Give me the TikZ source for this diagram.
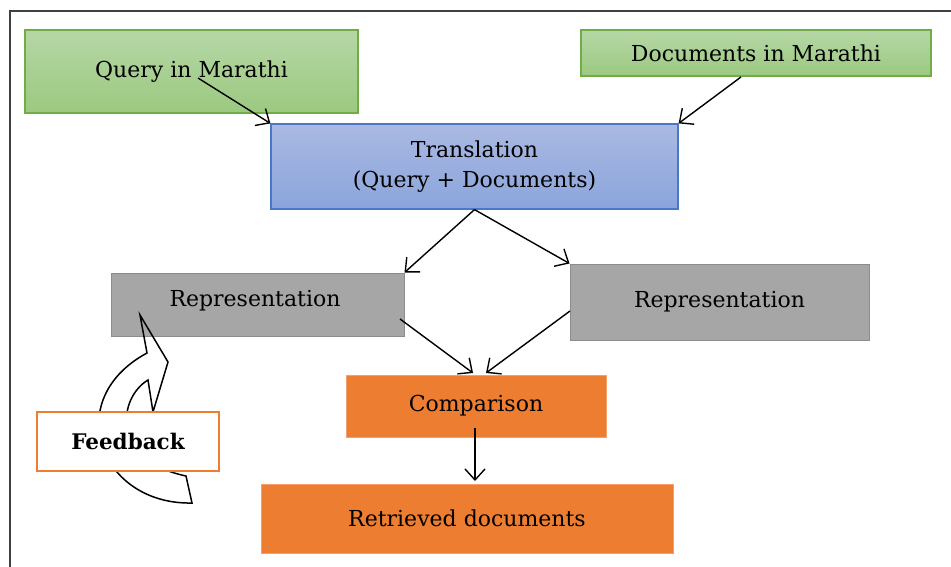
\documentclass[tikz,border=0pt]{standalone}
\usepackage{fontspec}
\setmainfont{DejaVu Serif}
\usetikzlibrary{arrows.meta}
\definecolor{gtop}{HTML}{B5D7A6}
\definecolor{gbot}{HTML}{9CC980}
\definecolor{gbord}{HTML}{70AD47}
\definecolor{btop}{HTML}{AAB9E2}
\definecolor{bbot}{HTML}{8AA5DC}
\definecolor{bbord}{HTML}{4A77C8}
\definecolor{grayf}{HTML}{A6A6A6}
\definecolor{grayb}{HTML}{8C8C8C}
\definecolor{orng}{HTML}{ED7D31}
\definecolor{orngb}{HTML}{F4A06A}
\tikzset{
  box/.style={rectangle, inner sep=0pt, align=center, font=\fontsize{22}{30}\selectfont, text=black},
  greenbox/.style={box, draw=gbord, line width=1.2pt, top color=gtop, bottom color=gbot},
  bluebox/.style={box, draw=bbord, line width=1.2pt, top color=btop, bottom color=bbot},
  graybox/.style={box, draw=grayb, line width=1pt, fill=grayf},
  orangebox/.style={box, draw=orngb, line width=0.8pt, fill=orng},
  fbbox/.style={box, draw=orng, line width=1.2pt, fill=white, font=\fontsize{21.5}{26}\selectfont\bfseries},
  conn/.style={line width=1.4pt, -{Straight Barb[length=11pt,width=20pt,line width=1.4pt]}},
}
\begin{document}
\begin{tikzpicture}[x=1pt,y=-1pt]
\useasboundingbox (0,0) rectangle (951,567);
\draw[line width=1.5pt, black!75] (10,567) -- (10,11) -- (951,11);

\node[greenbox, minimum width=333pt, minimum height=83pt] (query) at (191.5,71.5) {Query in Marathi};
\node[greenbox, minimum width=350pt, minimum height=46pt] (docs) at (756,53) {Documents in Marathi};
\node[bluebox, minimum width=407pt, minimum height=85pt] (trans) at (474.5,166.5) {Translation\\(Query + Documents)};
\node[graybox, minimum width=293pt, minimum height=63pt] (repL) at (257.5,304.5) {};
\node[box] (repLt) at (255,301) {Representation};
\node[graybox, minimum width=299pt, minimum height=76pt] (repR) at (719.5,302) {Representation};
\node[orangebox, minimum width=260pt, minimum height=62pt] (comp) at (476,406) {Comparison};
\node[orangebox, minimum width=412pt, minimum height=69pt] (ret) at (467,518.5) {Retrieved documents};

% curved feedback arrow
\coordinate (fT) at (140,315);
\coordinate (fR) at (168,362);
\coordinate (fB) at (153,412);
\coordinate (fI) at (148,380);
\coordinate (fO) at (147,353);
\coordinate (fIe) at (186,476);
\coordinate (fOe) at (192,503);
\draw[line width=1.5pt, line join=miter] (fT) -- (fR) -- (fB) -- (fI)
  .. controls (118,398) and (110,460) .. (fIe) -- (fOe)
  .. controls (100,505) and (60,400) .. (fO) -- cycle;

\node[fbbox, minimum width=182pt, minimum height=59pt] (fb) at (128,441.5) {Feedback};

% connectors
\coordinate (qs) at (198,78);
\coordinate (ds) at (741,77);
\coordinate (ls) at (400,319);
\coordinate (rs) at (570,311);
\coordinate (cs) at (475,428);
\coordinate (ce1) at (473,373);
\coordinate (ce2) at (486,373);
\coordinate (re) at (475,481);
\draw[conn] (qs) -- (trans.north west);
\draw[conn] (ds) -- (trans.north east);
\draw[conn] (trans.south) -- (repL.north east);
\draw[conn] (trans.south) -- (repR.north west);
\draw[conn] (ls) -- (ce1);
\draw[conn] (rs) -- (ce2);
\draw[conn] (cs) -- (re);
\end{tikzpicture}
\end{document}
